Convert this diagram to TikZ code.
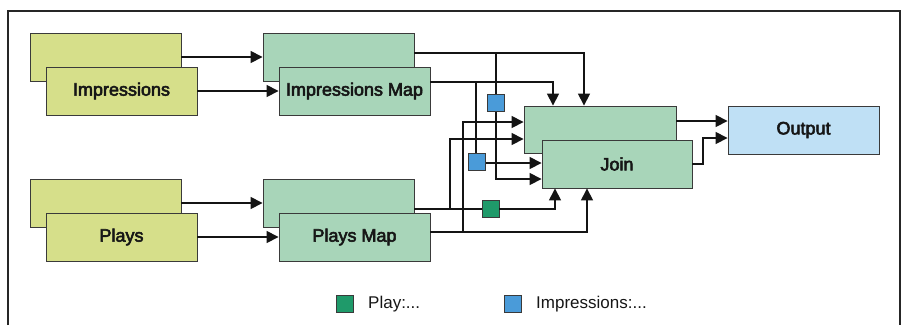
\documentclass[tikz,border=0pt]{standalone}
\usepackage{fontspec}
\setmainfont{Liberation Sans}
\newfontfamily\boxfont[FakeBold=3]{Liberation Sans}
\usetikzlibrary{arrows.meta}

\definecolor{srcfill}{RGB}{214,223,138}
\definecolor{mapfill}{RGB}{168,213,185}
\definecolor{outfill}{RGB}{191,224,245}
\definecolor{impfill}{RGB}{74,155,217}
\definecolor{playfill}{RGB}{31,154,106}
\definecolor{edgec}{RGB}{58,58,58}
\definecolor{linkc}{RGB}{20,20,20}
\definecolor{textc}{RGB}{22,22,22}

\tikzset{
  box/.style={draw=edgec, line width=0.9pt, minimum width=151pt, minimum height=48pt,
    inner sep=0pt, text=textc, font=\boxfont\fontsize{18pt}{20pt}\selectfont},
  srcbox/.style={box, fill=srcfill},
  mapbox/.style={box, fill=mapfill},
  outbox/.style={box, fill=outfill},
  tag/.style={draw=edgec, line width=0.9pt, minimum size=17pt, inner sep=0pt},
  imptag/.style={tag, fill=impfill},
  playtag/.style={tag, fill=playfill},
  link/.style={draw=linkc, line width=1.6pt},
  arr/.style={link, -{Triangle[length=12pt,width=12pt]}},
  legendtext/.style={anchor=west, inner sep=0pt, text=textc,
    font=\fontsize{17pt}{19pt}\selectfont},
}

\begin{document}
\begin{tikzpicture}[x=1pt, y=-1pt]
  \useasboundingbox (0,0) rectangle (904,325);
  % open frame round the drawing
  \draw[line width=1.5pt, black!85] (8,325) -- (8,11) -- (900,11) -- (900,325);

  % sources
  \node[srcbox] (impB) at (105.5,57) {};
  \node[srcbox] (impF) at (121.5,91) {Impressions};
  \node[srcbox] (plyB) at (105.5,203) {};
  \node[srcbox] (plyF) at (121.5,237) {Plays};

  % map stages
  \node[mapbox] (mapB) at (338.5,57) {};
  \node[mapbox] (mapF) at (354.5,91) {Impressions Map};
  \node[mapbox] (pmapB) at (338.5,203) {};
  \node[mapbox] (pmapF) at (354.5,237) {Plays Map};

  % join stage and output
  \node[mapbox, minimum width=152pt, minimum height=47pt] (joinB) at (600,129.5) {};
  \node[mapbox, minimum width=150pt] (joinF) at (617,164) {Join};
  \node[outbox] (out) at (803.5,130) {Output};

  % keyed tags on the shuffle links
  \node[imptag] (tagA) at (496,103) {};
  \node[imptag] (tagB) at (477,162) {};
  \node[playtag] (tagC) at (490.5,209) {};

  % bend points
  \coordinate (yA) at (0,53);
  \coordinate (yB) at (0,82);
  \coordinate (yC) at (0,209);
  \coordinate (yD) at (0,232);
  \coordinate (xA) at (584,0);
  \coordinate (xB) at (553,0);
  \coordinate (xC) at (555,0);
  \coordinate (xD) at (587,0);
  \coordinate (xE) at (476,0);
  \coordinate (xF) at (450,0);
  \coordinate (xG) at (463,0);
  \coordinate (hA) at (0,179);
  \coordinate (hB) at (0,163);
  \coordinate (hC) at (0,139);
  \coordinate (hD) at (0,122);
  \coordinate (yO) at (0,121);
  \coordinate (kO) at (703,138);

  % source -> map
  \draw[arr] (impB.east) -- (mapB.west);
  \draw[arr] (impF.east) -- (mapF.west);
  \draw[arr] (plyB.east) -- (pmapB.west);
  \draw[arr] (plyF.east) -- (pmapF.west);

  % impressions map (back) -> join
  \draw[arr] (mapB.east |- yA) -| (joinB.north -| xA);
  \draw[link] (tagA.center |- yA) -- (tagA.north);
  \draw[arr] (tagA.south) |- (joinF.west |- hA);

  % impressions map (front) -> join
  \draw[arr] (mapF.east |- yB) -| (joinB.north -| xB);
  \draw[link] (xE |- yB) -- (xE |- tagB.north);
  \draw[arr] (tagB.east |- hB) -- (joinF.west |- hB);

  % plays map (back) -> join
  \draw[link] (pmapB.east |- yC) -- (tagC.west);
  \draw[arr] (tagC.east) -| (joinF.south -| xC);
  \draw[arr] (xF |- yC) |- (joinB.west |- hC);

  % plays map (front) -> join
  \draw[arr] (pmapF.east |- yD) -| (joinF.south -| xD);
  \draw[arr] (xG |- yD) |- (joinB.west |- hD);

  % join -> output
  \draw[arr] (joinB.east |- yO) -- (out.west |- yO);
  \draw[arr] (joinF.east) -| (kO) -- (out.west |- kO);

  % legend
  \node[playtag] (keyP) at (344.5,304) {};
  \node[legendtext] (keyPt) at (368,304) {Play:...};
  \node[imptag] (keyI) at (513,304) {};
  \node[legendtext] (keyIt) at (536,304) {Impressions:...};
\end{tikzpicture}
\end{document}
